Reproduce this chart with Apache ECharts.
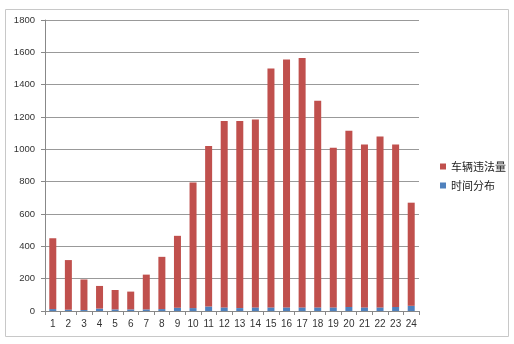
<!DOCTYPE html>
<html><head><meta charset="utf-8">
<script src="https://cdn.jsdelivr.net/npm/echarts@6/dist/echarts.min.js"></script>
<style>html,body{margin:0;padding:0;background:#fff}#c{width:514px;height:344px}</style>
</head><body><div id="c"></div>
<script>
const hours = ['1','2','3','4','5','6','7','8','9','10','11','12','13','14','15','16','17','18','19','20','21','22','23','24'];
const timeDist = [12,8,6,15,10,10,10,12,20,18,28,22,18,22,22,22,22,22,22,25,22,22,25,32];
const violations = [438,307,189,140,120,110,215,323,445,777,992,1153,1157,1163,1478,1533,1543,1278,988,1090,1008,1058,1005,638];
const yTicks = [0,200,400,600,800,1000,1200,1400,1600,1800];

const chart = echarts.init(document.getElementById('c'));
chart.setOption({
  animation:false,
  backgroundColor:'#fff',
  graphic:[{type:'rect',shape:{x:5.5,y:9.5,width:503,height:327},style:{fill:'none',stroke:'#c8c8c8',lineWidth:1},z:-1}],
  grid:{left:45,right:95,top:20,bottom:33},
  legend:{
    orient:'vertical',left:435,top:156,itemWidth:6,itemHeight:6,itemGap:8,
    icon:'rect',
    textStyle:{fontSize:11,color:'#222',fontFamily:'Noto Sans CJK SC'},
    data:['车辆违法量','时间分布']
  },
  xAxis:{type:'category',data:hours,
    axisLine:{lineStyle:{color:'#888'}},
    axisTick:{show:true,length:4,lineStyle:{color:'#888'}},
    axisLabel:{interval:0,fontSize:10,color:'#333',margin:8,fontFamily:'Liberation Sans'}},
  yAxis:{type:'value',min:yTicks[0],max:yTicks[yTicks.length-1],interval:200,
    axisLine:{show:true,lineStyle:{color:'#888'}},
    axisTick:{show:true,length:4,lineStyle:{color:'#888'}},
    splitLine:{lineStyle:{color:'#999'}},
    axisLabel:{fontSize:9.5,color:'#333',margin:10,fontFamily:'Liberation Sans',formatter:v=>String(v)}},
  series:[
    {name:'时间分布',type:'bar',stack:'a',data:timeDist,barWidth:7,itemStyle:{color:'#4f81bd'}},
    {name:'车辆违法量',type:'bar',stack:'a',data:violations,barWidth:7,itemStyle:{color:'#c0504d'}}
  ]
});
</script></body></html>
